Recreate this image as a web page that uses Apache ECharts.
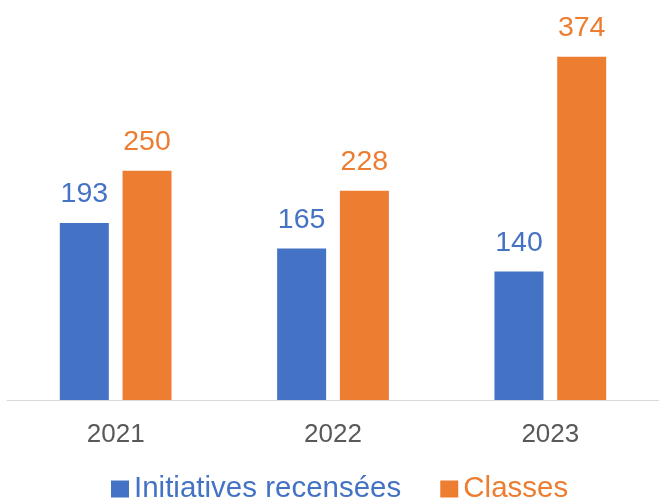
<!DOCTYPE html>
<html>
<head>
<meta charset="utf-8">
<script src="https://cdn.jsdelivr.net/npm/echarts@6/dist/echarts.min.js"></script>
<style>
  html, body { margin: 0; padding: 0; background: #fff; }
</style>
</head>
<body>
<div id="myChart" style="width:659px;height:502px;"></div>
<script>
var years = ['2021', '2022', '2023'];
var initiatives = [193, 165, 140];
var classes = [250, 228, 374];

var myChart = echarts.init(document.getElementById('myChart'));
var font = 'Liberation Sans, Arial, sans-serif';

myChart.setOption({
  animation: false,
  color: ['#4472C4', '#ED7D31'],
  textStyle: { fontFamily: font },
  grid: { left: 7, right: 0, top: 33, bottom: 102 },
  legend: {
    top: 469,
    left: 106,
    itemWidth: 18,
    itemHeight: 17,
    itemGap: 39,
    icon: 'rect',
    textStyle: { fontSize: 29.5, fontFamily: font },
    data: [
      { name: 'Initiatives recensées', textStyle: { color: '#4472C4' } },
      { name: 'Classes', textStyle: { color: '#ED7D31' } }
    ]
  },
  xAxis: {
    type: 'category',
    data: years,
    axisTick: { show: false },
    axisLine: { lineStyle: { color: '#D9D9D9', width: 1 } },
    axisLabel: { fontSize: 26, color: '#595959', margin: 22, fontFamily: font }
  },
  yAxis: {
    type: 'value',
    min: 0,
    max: 400,
    show: false,
    splitLine: { show: false }
  },
  series: [
    {
      name: 'Initiatives recensées',
      type: 'bar',
      data: initiatives,
      barWidth: 49,
      barGap: '28%',
      label: { show: true, position: 'top', distance: 14, fontSize: 28.5, color: '#4472C4', fontFamily: font }
    },
    {
      name: 'Classes',
      type: 'bar',
      data: classes,
      barWidth: 49,
      label: { show: true, position: 'top', distance: 14, fontSize: 28.5, color: '#ED7D31', fontFamily: font }
    }
  ]
});
</script>
</body>
</html>
